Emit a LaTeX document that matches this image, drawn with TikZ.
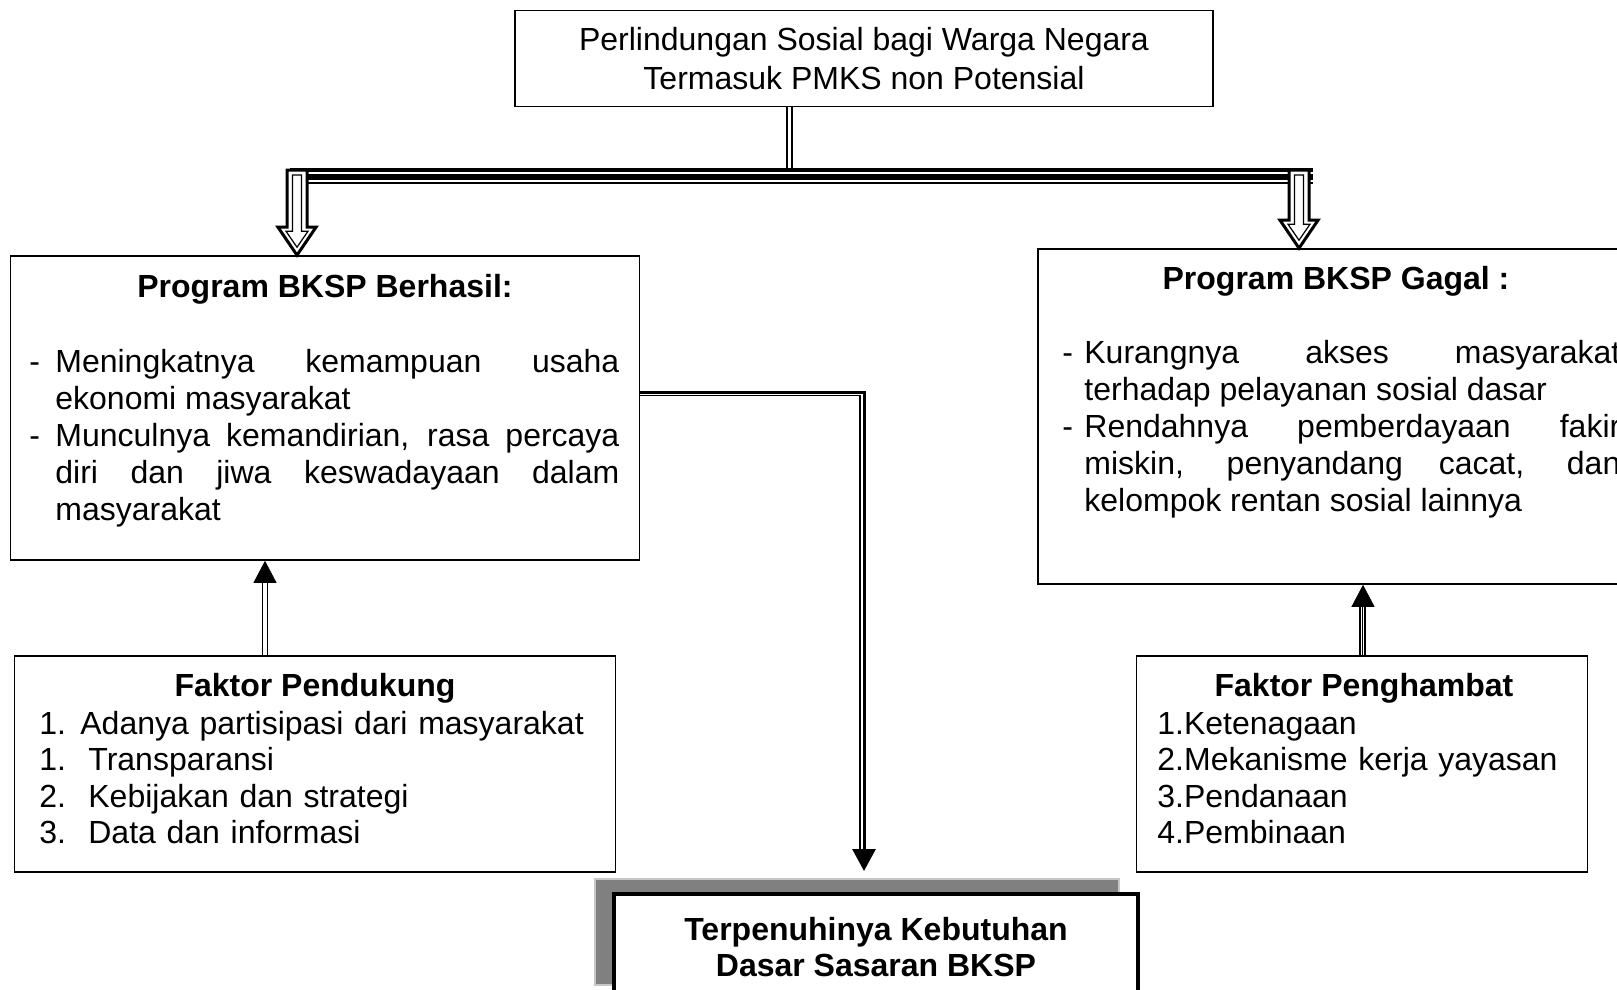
\documentclass[tikz,border=0pt]{standalone}
\usepackage{fontspec}
\setmainfont{Liberation Sans}
\usetikzlibrary{arrows.meta,calc,shadows}
\hyphenpenalty=10000
\tolerance=10000

\newcommand{\dashitem}[2][13pt]{\hangindent=#1\hangafter=1\noindent\makebox[#1][l]{-}#2\par}
\newcommand{\hollowdown}[2]{%
  \draw[line width=1.5pt, fill=white]
    ($(#1)+(-10,0)$) -- ($(#2)+(-10,-28)$) -- ($(#2)+(-19,-28)$) -- (#2)
    -- ($(#2)+(19,-28)$) -- ($(#2)+(10,-28)$) -- ($(#1)+(10,0)$) -- cycle;
  \draw[line width=0.6pt]
    ($(#1)+(-4.5,5)$) -- ($(#2)+(-4.5,-24)$) -- ($(#2)+(-11,-24)$) -- ($(#2)+(0,-8)$)
    -- ($(#2)+(11,-24)$) -- ($(#2)+(4.5,-24)$) -- ($(#1)+(4.5,5)$) -- cycle;
}

\tikzset{
  box/.style={draw, rectangle, line width=0.8pt, inner sep=0pt},
  txt/.style={inner sep=0pt, font=\fontsize{16}{18.5}\selectfont},
  head/.style={inner sep=0pt, anchor=base, font=\fontsize{16}{18.5}\selectfont\bfseries},
  body/.style={inner sep=0pt, anchor=base west, align=justify, text width=#1,
    font=\fontsize{16}{18.5}\selectfont},
  list/.style={inner sep=0pt, anchor=base west, align=left, text width=280pt,
    font=\fontsize{16}{18.3}\selectfont},
  hasilbox/.style={draw, rectangle, line width=2pt, fill=white, inner sep=0pt,
    minimum width=262pt, minimum height=53pt, align=center,
    font=\fontsize{16}{18}\selectfont\bfseries,
    general shadow={fill=black!50, draw=black!22, line width=0.8pt, shadow xshift=-9.5pt, shadow yshift=7.5pt}},
  tipstyle/.style={white, -{Triangle[black, width=11.5pt, length=11pt]}},
}

\begin{document}
\begin{tikzpicture}[x=0.5pt, y=-0.5pt]
\useasboundingbox (0,0) rectangle (1617,990);

\node[box, txt, align=center, minimum width=349pt, minimum height=48pt] (top) at (864,58.5) {Perlindungan Sosial bagi Warga Negara\\[1pt]Termasuk PMKS non Potensial};

\node[box, minimum width=314.5pt, minimum height=152pt] (berhasil) at (325,408) {};
\node[head] (berhasilT) at (325,297) {Program BKSP Berhasil:};
\node[body=295pt] (berhasilB) at (29,372) {\dashitem{Meningkatnya kemampuan usaha\linebreak ekonomi masyarakat}\dashitem{Munculnya kemandirian, rasa percaya\linebreak diri dan jiwa keswadayaan dalam\linebreak masyarakat}};

\node[box, minimum width=306pt, minimum height=167.5pt] (gagal) at (1344,416.5) {};
\node[head] (gagalT) at (1336,289) {Program BKSP Gagal :};
\node[body=279pt] (gagalB) at (1062,363) {\dashitem[11pt]{Kurangnya akses masyarakat\linebreak terhadap pelayanan sosial dasar}\dashitem[11pt]{Rendahnya pemberdayaan fakir\linebreak miskin, penyandang cacat, dan\linebreak kelompok rentan sosial lainnya}};

\node[box, minimum width=300.5pt, minimum height=108pt] (pendukung) at (315,764) {};
\node[head] (pendukungT) at (315,696) {Faktor Pendukung};
\node[list] (pendukungB) at (39,734) {\makebox[20.5pt][l]{1.}Adanya partisipasi dari masyarakat\\\makebox[24.5pt][l]{1.}Transparansi\\\makebox[24.5pt][l]{2.}Kebijakan dan strategi\\\makebox[24.5pt][l]{3.}Data dan informasi};

\node[box, minimum width=225.5pt, minimum height=108pt] (penghambat) at (1362,764) {};
\node[head] (penghambatT) at (1364,696) {Faktor Penghambat};
\node[list] (penghambatB) at (1157,734) {1.Ketenagaan\\2.Mekanisme kerja yayasan\\3.Pendanaan\\4.Pembinaan};

\node[hasilbox] (hasil) at (876,947) {Terpenuhinya Kebutuhan\\Dasar Sasaran BKSP};

\coordinate (jt) at (789.3,168);
\coordinate (barL) at (290,177);
\coordinate (barR) at (1313,177);
\draw[double, double distance=1.7pt, line width=0.8pt] (top.south -| jt) -- (jt);
\draw[line width=1.8pt] ([yshift=3.5pt]barL) -- ([yshift=3.5pt]barR);
\draw[line width=3pt] (barL) -- (barR);
\draw[line width=0.7pt] ([yshift=-2.9pt]barL) -- ([yshift=-2.9pt]barR);

\coordinate (la) at (297,170);
\coordinate (lt) at (berhasil.north -| la);
\coordinate (ra) at (1299,170);
\coordinate (rt) at (gagal.north -| ra);
\hollowdown{la}{lt}
\hollowdown{ra}{rt}

\coordinate (kb) at (864,392.3);
\coordinate (kb2) at (860,395.7);
\coordinate (kt) at (864,871);
\draw[line width=1.5pt, -{Triangle[width=11.5pt, length=11pt]}] (berhasil.east |- kb) -- (kb) -- (kt);
\draw[line width=0.6pt, shorten >=10pt] (berhasil.east |- kb2) -- (kb2) -- (kb2 |- kt);

\coordinate (lu) at (265,656);
\draw[double, double distance=1.7pt, line width=0.8pt, shorten >=10pt] (pendukung.north -| lu) -- (berhasil.south -| lu);
\draw[tipstyle] (pendukung.north -| lu) -- (berhasil.south -| lu);

\coordinate (ru) at (1360,656);
\coordinate (ru2) at (1364,656);
\coordinate (ru3) at (1363,656);
\draw[line width=0.7pt, shorten >=10pt] (penghambat.north -| ru) -- (gagal.south -| ru);
\draw[line width=1.7pt, shorten >=10pt] (penghambat.north -| ru2) -- (gagal.south -| ru2);
\draw[tipstyle] (penghambat.north -| ru3) -- (gagal.south -| ru3);
\end{tikzpicture}
\end{document}
